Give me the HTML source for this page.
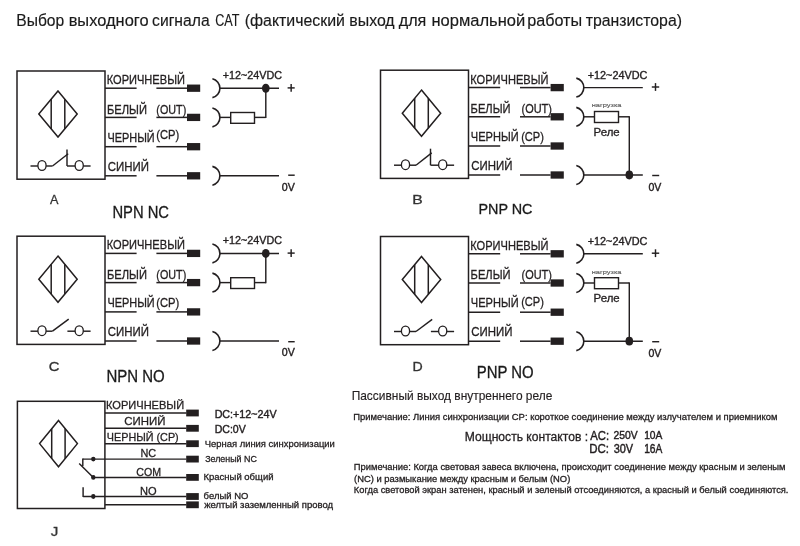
<!DOCTYPE html>
<html><head><meta charset="utf-8"><style>
html,body{margin:0;padding:0;background:#fff;}
svg{display:block;}
text{font-family:"Liberation Sans",sans-serif;}
svg{will-change:transform;}
</style></head><body>
<svg width="800" height="546" viewBox="0 0 800 546">
<rect x="0" y="0" width="800" height="546" fill="#fff"/>
<g stroke="#231f20" stroke-linecap="butt" fill="none">
<text x="16.25" y="25.90" font-size="15.65" textLength="47.99" lengthAdjust="spacingAndGlyphs" fill="#1a1a1a" stroke="#1a1a1a" stroke-width="0.15">Выбор</text>
<text x="68.65" y="25.90" font-size="15.65" textLength="79.89" lengthAdjust="spacingAndGlyphs" fill="#1a1a1a" stroke="#1a1a1a" stroke-width="0.15">выходного</text>
<text x="152.07" y="25.90" font-size="15.65" textLength="57.55" lengthAdjust="spacingAndGlyphs" fill="#1a1a1a" stroke="#1a1a1a" stroke-width="0.15">сигнала</text>
<text x="215.17" y="25.90" font-size="15.65" textLength="24.29" lengthAdjust="spacingAndGlyphs" fill="#1a1a1a" stroke="#1a1a1a" stroke-width="0.15">CAT</text>
<text x="244.75" y="25.90" font-size="15.65" textLength="100.25" lengthAdjust="spacingAndGlyphs" fill="#1a1a1a" stroke="#1a1a1a" stroke-width="0.15">(фактический</text>
<text x="349.29" y="25.90" font-size="15.65" textLength="45.37" lengthAdjust="spacingAndGlyphs" fill="#1a1a1a" stroke="#1a1a1a" stroke-width="0.15">выход</text>
<text x="398.74" y="25.90" font-size="15.65" textLength="27.57" lengthAdjust="spacingAndGlyphs" fill="#1a1a1a" stroke="#1a1a1a" stroke-width="0.15">для</text>
<text x="431.44" y="25.90" font-size="15.65" textLength="93.81" lengthAdjust="spacingAndGlyphs" fill="#1a1a1a" stroke="#1a1a1a" stroke-width="0.15">нормальной</text>
<text x="527.15" y="25.90" font-size="15.65" textLength="55.00" lengthAdjust="spacingAndGlyphs" fill="#1a1a1a" stroke="#1a1a1a" stroke-width="0.15">работы</text>
<text x="585.66" y="25.90" font-size="15.65" textLength="96.34" lengthAdjust="spacingAndGlyphs" fill="#1a1a1a" stroke="#1a1a1a" stroke-width="0.15">транзистора)</text>
<rect x="17.00" y="71.00" width="88.00" height="108.20" stroke-width="1.5" fill="none"/>
<polygon points="58.00,90.90 77.20,114.00 58.00,137.10 38.80,114.00" stroke-width="1.5" fill="none"/>
<line x1="51.20" y1="99.08" x2="51.20" y2="128.92" stroke-width="1.5"/>
<line x1="64.80" y1="99.08" x2="64.80" y2="128.92" stroke-width="1.5"/>
<line x1="30.50" y1="166.00" x2="37.90" y2="166.00" stroke-width="1.45"/>
<ellipse cx="42.00" cy="165.50" rx="4.1" ry="4.9" fill="none" stroke-width="1.3"/>
<line x1="46.10" y1="166.00" x2="52.50" y2="166.00" stroke-width="1.45"/>
<line x1="52.50" y1="166.00" x2="68.20" y2="153.70" stroke-width="1.45"/>
<line x1="67.00" y1="149.50" x2="67.00" y2="166.00" stroke-width="1.45"/>
<line x1="67.00" y1="166.00" x2="75.10" y2="166.00" stroke-width="1.45"/>
<ellipse cx="79.20" cy="165.50" rx="4.1" ry="4.9" fill="none" stroke-width="1.3"/>
<line x1="83.30" y1="166.00" x2="90.60" y2="166.00" stroke-width="1.45"/>
<line x1="105.00" y1="88.20" x2="136.60" y2="88.20" stroke-width="1.5"/>
<line x1="156.40" y1="88.20" x2="187.00" y2="88.20" stroke-width="1.5"/>
<rect x="187.00" y="84.55" width="13.2" height="7.3" fill="#231f20" stroke="none"/>
<line x1="105.00" y1="117.40" x2="136.60" y2="117.40" stroke-width="1.5"/>
<line x1="156.40" y1="117.40" x2="187.00" y2="117.40" stroke-width="1.5"/>
<rect x="187.00" y="113.75" width="13.2" height="7.3" fill="#231f20" stroke="none"/>
<line x1="105.00" y1="146.70" x2="136.60" y2="146.70" stroke-width="1.5"/>
<line x1="156.40" y1="146.70" x2="187.00" y2="146.70" stroke-width="1.5"/>
<rect x="187.00" y="143.05" width="13.2" height="7.3" fill="#231f20" stroke="none"/>
<line x1="105.00" y1="175.80" x2="136.60" y2="175.80" stroke-width="1.5"/>
<line x1="156.40" y1="175.80" x2="187.00" y2="175.80" stroke-width="1.5"/>
<rect x="187.00" y="172.15" width="13.2" height="7.3" fill="#231f20" stroke="none"/>
<text x="106.71" y="84.20" font-size="12.61" textLength="78.19" lengthAdjust="spacingAndGlyphs" fill="#231f20" stroke="#231f20" stroke-width="0.3">КОРИЧНЕВЫЙ</text>
<text x="107.01" y="113.70" font-size="12.61" textLength="39.92" lengthAdjust="spacingAndGlyphs" fill="#231f20" stroke="#231f20" stroke-width="0.3">БЕЛЫЙ</text>
<text x="156.35" y="113.70" font-size="12.61" textLength="29.91" lengthAdjust="spacingAndGlyphs" fill="#231f20" stroke="#231f20" stroke-width="0.3">(OUT)</text>
<text x="107.43" y="141.90" font-size="12.61" textLength="47.27" lengthAdjust="spacingAndGlyphs" fill="#231f20" stroke="#231f20" stroke-width="0.3">ЧЕРНЫЙ</text>
<text x="156.23" y="139.40" font-size="12.61" textLength="23.00" lengthAdjust="spacingAndGlyphs" fill="#231f20" stroke="#231f20" stroke-width="0.3">(CP)</text>
<text x="107.73" y="171.00" font-size="12.61" textLength="41.25" lengthAdjust="spacingAndGlyphs" fill="#231f20" stroke="#231f20" stroke-width="0.3">СИНИЙ</text>
<path d="M212.40,78.75 A9.7,9.7 0 0 1 212.40,97.65" fill="none" stroke-width="1.6"/>
<path d="M212.40,107.95 A9.7,9.7 0 0 1 212.40,126.85" fill="none" stroke-width="1.6"/>
<path d="M212.40,166.35 A9.7,9.7 0 0 1 212.40,185.25" fill="none" stroke-width="1.6"/>
<line x1="219.90" y1="88.20" x2="279.00" y2="88.20" stroke-width="1.45"/>
<ellipse cx="265.80" cy="88.20" rx="3.85" ry="4.5" fill="#231f20" stroke="none"/>
<line x1="219.90" y1="117.40" x2="230.70" y2="117.40" stroke-width="1.45"/>
<rect x="230.70" y="112.50" width="23.80" height="10.80" stroke-width="1.4" fill="none"/>
<line x1="254.50" y1="117.40" x2="265.80" y2="117.40" stroke-width="1.45"/>
<line x1="265.80" y1="88.20" x2="265.80" y2="118.00" stroke-width="1.45"/>
<line x1="219.90" y1="175.80" x2="279.00" y2="175.80" stroke-width="1.45"/>
<text x="222.66" y="79.00" font-size="10.58" textLength="59.36" lengthAdjust="spacingAndGlyphs" fill="#231f20" stroke="#231f20" stroke-width="0.35">+12~24VDC</text>
<line x1="287.60" y1="87.90" x2="294.70" y2="87.90" stroke-width="1.45"/>
<line x1="291.15" y1="84.00" x2="291.15" y2="91.80" stroke-width="1.45"/>
<line x1="288.20" y1="175.20" x2="294.70" y2="175.20" stroke-width="1.45"/>
<text x="281.77" y="190.70" font-size="11.59" textLength="13.01" lengthAdjust="spacingAndGlyphs" fill="#231f20" stroke="#231f20" stroke-width="0.42">0V</text>
<text x="50.00" y="204.00" font-size="13.04" textLength="8.43" lengthAdjust="spacingAndGlyphs" fill="#333" stroke="#333" stroke-width="0.3">A</text>
<text x="112.42" y="218.00" font-size="15.94" textLength="56.55" lengthAdjust="spacingAndGlyphs" fill="#1a1a1a" stroke="#1a1a1a" stroke-width="0.3">NPN NC</text>
<rect x="380.50" y="70.20" width="88.00" height="108.20" stroke-width="1.5" fill="none"/>
<polygon points="421.50,90.10 440.70,113.20 421.50,136.30 402.30,113.20" stroke-width="1.5" fill="none"/>
<line x1="414.70" y1="98.28" x2="414.70" y2="128.12" stroke-width="1.5"/>
<line x1="428.30" y1="98.28" x2="428.30" y2="128.12" stroke-width="1.5"/>
<line x1="394.00" y1="165.20" x2="401.40" y2="165.20" stroke-width="1.45"/>
<ellipse cx="405.50" cy="164.70" rx="4.1" ry="4.9" fill="none" stroke-width="1.3"/>
<line x1="409.60" y1="165.20" x2="416.00" y2="165.20" stroke-width="1.45"/>
<line x1="416.00" y1="165.20" x2="431.70" y2="152.90" stroke-width="1.45"/>
<line x1="430.50" y1="148.70" x2="430.50" y2="165.20" stroke-width="1.45"/>
<line x1="430.50" y1="165.20" x2="438.60" y2="165.20" stroke-width="1.45"/>
<ellipse cx="442.70" cy="164.70" rx="4.1" ry="4.9" fill="none" stroke-width="1.3"/>
<line x1="446.80" y1="165.20" x2="454.10" y2="165.20" stroke-width="1.45"/>
<line x1="468.60" y1="87.60" x2="500.20" y2="87.60" stroke-width="1.5"/>
<line x1="520.00" y1="87.60" x2="550.60" y2="87.60" stroke-width="1.5"/>
<rect x="550.60" y="83.95" width="13.2" height="7.3" fill="#231f20" stroke="none"/>
<line x1="468.60" y1="116.80" x2="500.20" y2="116.80" stroke-width="1.5"/>
<line x1="520.00" y1="116.80" x2="550.60" y2="116.80" stroke-width="1.5"/>
<rect x="550.60" y="113.15" width="13.2" height="7.3" fill="#231f20" stroke="none"/>
<line x1="468.60" y1="146.00" x2="500.20" y2="146.00" stroke-width="1.5"/>
<line x1="520.00" y1="146.00" x2="550.60" y2="146.00" stroke-width="1.5"/>
<rect x="550.60" y="142.35" width="13.2" height="7.3" fill="#231f20" stroke="none"/>
<line x1="468.60" y1="175.00" x2="500.20" y2="175.00" stroke-width="1.5"/>
<line x1="520.00" y1="175.00" x2="550.60" y2="175.00" stroke-width="1.5"/>
<rect x="550.60" y="171.35" width="13.2" height="7.3" fill="#231f20" stroke="none"/>
<text x="470.31" y="83.60" font-size="12.61" textLength="78.19" lengthAdjust="spacingAndGlyphs" fill="#231f20" stroke="#231f20" stroke-width="0.3">КОРИЧНЕВЫЙ</text>
<text x="470.61" y="113.10" font-size="12.61" textLength="39.92" lengthAdjust="spacingAndGlyphs" fill="#231f20" stroke="#231f20" stroke-width="0.3">БЕЛЫЙ</text>
<text x="521.54" y="113.10" font-size="12.61" textLength="30.33" lengthAdjust="spacingAndGlyphs" fill="#231f20" stroke="#231f20" stroke-width="0.3">(OUT)</text>
<text x="470.82" y="141.20" font-size="12.61" textLength="47.79" lengthAdjust="spacingAndGlyphs" fill="#231f20" stroke="#231f20" stroke-width="0.3">ЧЕРНЫЙ</text>
<text x="521.13" y="141.20" font-size="12.61" textLength="22.79" lengthAdjust="spacingAndGlyphs" fill="#231f20" stroke="#231f20" stroke-width="0.3">(CP)</text>
<text x="471.33" y="170.20" font-size="12.61" textLength="41.25" lengthAdjust="spacingAndGlyphs" fill="#231f20" stroke="#231f20" stroke-width="0.3">СИНИЙ</text>
<path d="M576.30,78.15 A9.7,9.7 0 0 1 576.30,97.05" fill="none" stroke-width="1.6"/>
<path d="M576.30,107.35 A9.7,9.7 0 0 1 576.30,126.25" fill="none" stroke-width="1.6"/>
<path d="M576.30,165.55 A9.7,9.7 0 0 1 576.30,184.45" fill="none" stroke-width="1.6"/>
<line x1="583.80" y1="87.60" x2="642.80" y2="87.60" stroke-width="1.45"/>
<line x1="583.80" y1="116.80" x2="594.50" y2="116.80" stroke-width="1.45"/>
<rect x="594.50" y="111.50" width="24.00" height="11.00" stroke-width="1.4" fill="none"/>
<line x1="618.50" y1="116.80" x2="629.30" y2="116.80" stroke-width="1.45"/>
<line x1="629.30" y1="116.20" x2="629.30" y2="175.00" stroke-width="1.45"/>
<line x1="583.80" y1="175.00" x2="642.80" y2="175.00" stroke-width="1.45"/>
<ellipse cx="629.30" cy="175.00" rx="3.8" ry="4.4" fill="#231f20" stroke="none"/>
<text x="587.66" y="79.20" font-size="10.58" textLength="59.77" lengthAdjust="spacingAndGlyphs" fill="#231f20" stroke="#231f20" stroke-width="0.35">+12~24VDC</text>
<line x1="651.80" y1="87.00" x2="659.20" y2="87.00" stroke-width="1.45"/>
<line x1="655.50" y1="83.10" x2="655.50" y2="90.90" stroke-width="1.45"/>
<line x1="652.20" y1="175.50" x2="659.20" y2="175.50" stroke-width="1.45"/>
<text x="648.38" y="190.60" font-size="11.59" textLength="12.91" lengthAdjust="spacingAndGlyphs" fill="#231f20" stroke="#231f20" stroke-width="0.42">0V</text>
<text x="591.68" y="107.30" font-size="6.09" textLength="29.84" lengthAdjust="spacingAndGlyphs" fill="#555" stroke="#555" stroke-width="0.1">нагрузка</text>
<text x="593.59" y="136.20" font-size="10.43" textLength="26.14" lengthAdjust="spacingAndGlyphs" fill="#231f20" stroke="#231f20" stroke-width="0.3">Реле</text>
<text x="412.34" y="203.60" font-size="12.46" textLength="10.47" lengthAdjust="spacingAndGlyphs" fill="#333" stroke="#333" stroke-width="0.3">B</text>
<text x="478.45" y="213.60" font-size="15.36" textLength="54.06" lengthAdjust="spacingAndGlyphs" fill="#1a1a1a" stroke="#1a1a1a" stroke-width="0.3">PNP NC</text>
<rect x="17.00" y="236.20" width="88.00" height="108.20" stroke-width="1.5" fill="none"/>
<polygon points="58.00,256.10 77.20,279.20 58.00,302.30 38.80,279.20" stroke-width="1.5" fill="none"/>
<line x1="51.20" y1="264.28" x2="51.20" y2="294.12" stroke-width="1.5"/>
<line x1="64.80" y1="264.28" x2="64.80" y2="294.12" stroke-width="1.5"/>
<line x1="30.50" y1="331.20" x2="37.90" y2="331.20" stroke-width="1.45"/>
<ellipse cx="42.00" cy="330.70" rx="4.1" ry="4.9" fill="none" stroke-width="1.3"/>
<line x1="46.10" y1="331.20" x2="52.50" y2="331.20" stroke-width="1.45"/>
<line x1="52.50" y1="331.20" x2="68.70" y2="319.10" stroke-width="1.45"/>
<line x1="67.40" y1="331.20" x2="75.10" y2="331.20" stroke-width="1.45"/>
<ellipse cx="79.20" cy="330.70" rx="4.1" ry="4.9" fill="none" stroke-width="1.3"/>
<line x1="83.30" y1="331.20" x2="90.60" y2="331.20" stroke-width="1.45"/>
<line x1="105.00" y1="253.40" x2="136.60" y2="253.40" stroke-width="1.5"/>
<line x1="156.40" y1="253.40" x2="187.00" y2="253.40" stroke-width="1.5"/>
<rect x="187.00" y="249.75" width="13.2" height="7.3" fill="#231f20" stroke="none"/>
<line x1="105.00" y1="282.60" x2="136.60" y2="282.60" stroke-width="1.5"/>
<line x1="156.40" y1="282.60" x2="187.00" y2="282.60" stroke-width="1.5"/>
<rect x="187.00" y="278.95" width="13.2" height="7.3" fill="#231f20" stroke="none"/>
<line x1="105.00" y1="311.90" x2="136.60" y2="311.90" stroke-width="1.5"/>
<line x1="156.40" y1="311.90" x2="187.00" y2="311.90" stroke-width="1.5"/>
<rect x="187.00" y="308.25" width="13.2" height="7.3" fill="#231f20" stroke="none"/>
<line x1="105.00" y1="341.00" x2="136.60" y2="341.00" stroke-width="1.5"/>
<line x1="156.40" y1="341.00" x2="187.00" y2="341.00" stroke-width="1.5"/>
<rect x="187.00" y="337.35" width="13.2" height="7.3" fill="#231f20" stroke="none"/>
<text x="106.71" y="249.40" font-size="12.61" textLength="78.19" lengthAdjust="spacingAndGlyphs" fill="#231f20" stroke="#231f20" stroke-width="0.3">КОРИЧНЕВЫЙ</text>
<text x="107.01" y="278.90" font-size="12.61" textLength="39.92" lengthAdjust="spacingAndGlyphs" fill="#231f20" stroke="#231f20" stroke-width="0.3">БЕЛЫЙ</text>
<text x="156.35" y="278.90" font-size="12.61" textLength="29.91" lengthAdjust="spacingAndGlyphs" fill="#231f20" stroke="#231f20" stroke-width="0.3">(OUT)</text>
<text x="107.43" y="307.10" font-size="12.61" textLength="47.27" lengthAdjust="spacingAndGlyphs" fill="#231f20" stroke="#231f20" stroke-width="0.3">ЧЕРНЫЙ</text>
<text x="156.23" y="307.10" font-size="12.61" textLength="23.00" lengthAdjust="spacingAndGlyphs" fill="#231f20" stroke="#231f20" stroke-width="0.3">(CP)</text>
<text x="107.73" y="336.20" font-size="12.61" textLength="41.25" lengthAdjust="spacingAndGlyphs" fill="#231f20" stroke="#231f20" stroke-width="0.3">СИНИЙ</text>
<path d="M212.40,243.95 A9.7,9.7 0 0 1 212.40,262.85" fill="none" stroke-width="1.6"/>
<path d="M212.40,273.15 A9.7,9.7 0 0 1 212.40,292.05" fill="none" stroke-width="1.6"/>
<path d="M212.40,331.55 A9.7,9.7 0 0 1 212.40,350.45" fill="none" stroke-width="1.6"/>
<line x1="219.90" y1="253.40" x2="279.00" y2="253.40" stroke-width="1.45"/>
<ellipse cx="265.80" cy="253.40" rx="3.85" ry="4.5" fill="#231f20" stroke="none"/>
<line x1="219.90" y1="282.60" x2="230.70" y2="282.60" stroke-width="1.45"/>
<rect x="230.70" y="277.70" width="23.80" height="10.80" stroke-width="1.4" fill="none"/>
<line x1="254.50" y1="282.60" x2="265.80" y2="282.60" stroke-width="1.45"/>
<line x1="265.80" y1="253.40" x2="265.80" y2="283.20" stroke-width="1.45"/>
<line x1="219.90" y1="341.00" x2="279.00" y2="341.00" stroke-width="1.45"/>
<text x="222.66" y="244.20" font-size="10.58" textLength="59.36" lengthAdjust="spacingAndGlyphs" fill="#231f20" stroke="#231f20" stroke-width="0.35">+12~24VDC</text>
<line x1="287.60" y1="253.10" x2="294.70" y2="253.10" stroke-width="1.45"/>
<line x1="291.15" y1="249.20" x2="291.15" y2="257.00" stroke-width="1.45"/>
<line x1="288.20" y1="341.70" x2="294.70" y2="341.70" stroke-width="1.45"/>
<text x="281.77" y="355.90" font-size="11.59" textLength="13.01" lengthAdjust="spacingAndGlyphs" fill="#231f20" stroke="#231f20" stroke-width="0.42">0V</text>
<text x="48.86" y="371.00" font-size="12.46" textLength="10.69" lengthAdjust="spacingAndGlyphs" fill="#333" stroke="#333" stroke-width="0.3">C</text>
<text x="106.40" y="382.00" font-size="15.94" textLength="58.34" lengthAdjust="spacingAndGlyphs" fill="#1a1a1a" stroke="#1a1a1a" stroke-width="0.3">NPN NO</text>
<rect x="380.50" y="236.50" width="88.00" height="108.20" stroke-width="1.5" fill="none"/>
<polygon points="421.50,256.40 440.70,279.50 421.50,302.60 402.30,279.50" stroke-width="1.5" fill="none"/>
<line x1="414.70" y1="264.58" x2="414.70" y2="294.42" stroke-width="1.5"/>
<line x1="428.30" y1="264.58" x2="428.30" y2="294.42" stroke-width="1.5"/>
<line x1="394.00" y1="331.50" x2="401.40" y2="331.50" stroke-width="1.45"/>
<ellipse cx="405.50" cy="331.00" rx="4.1" ry="4.9" fill="none" stroke-width="1.3"/>
<line x1="409.60" y1="331.50" x2="416.00" y2="331.50" stroke-width="1.45"/>
<line x1="416.00" y1="331.50" x2="432.20" y2="319.40" stroke-width="1.45"/>
<line x1="430.90" y1="331.50" x2="438.60" y2="331.50" stroke-width="1.45"/>
<ellipse cx="442.70" cy="331.00" rx="4.1" ry="4.9" fill="none" stroke-width="1.3"/>
<line x1="446.80" y1="331.50" x2="454.10" y2="331.50" stroke-width="1.45"/>
<line x1="468.60" y1="253.80" x2="500.20" y2="253.80" stroke-width="1.5"/>
<line x1="520.00" y1="253.80" x2="550.60" y2="253.80" stroke-width="1.5"/>
<rect x="550.60" y="250.15" width="13.2" height="7.3" fill="#231f20" stroke="none"/>
<line x1="468.60" y1="283.00" x2="500.20" y2="283.00" stroke-width="1.5"/>
<line x1="520.00" y1="283.00" x2="550.60" y2="283.00" stroke-width="1.5"/>
<rect x="550.60" y="279.35" width="13.2" height="7.3" fill="#231f20" stroke="none"/>
<line x1="468.60" y1="312.20" x2="500.20" y2="312.20" stroke-width="1.5"/>
<line x1="520.00" y1="312.20" x2="550.60" y2="312.20" stroke-width="1.5"/>
<rect x="550.60" y="308.55" width="13.2" height="7.3" fill="#231f20" stroke="none"/>
<line x1="468.60" y1="341.20" x2="500.20" y2="341.20" stroke-width="1.5"/>
<line x1="520.00" y1="341.20" x2="550.60" y2="341.20" stroke-width="1.5"/>
<rect x="550.60" y="337.55" width="13.2" height="7.3" fill="#231f20" stroke="none"/>
<text x="470.31" y="249.80" font-size="12.61" textLength="78.19" lengthAdjust="spacingAndGlyphs" fill="#231f20" stroke="#231f20" stroke-width="0.3">КОРИЧНЕВЫЙ</text>
<text x="470.61" y="279.30" font-size="12.61" textLength="39.92" lengthAdjust="spacingAndGlyphs" fill="#231f20" stroke="#231f20" stroke-width="0.3">БЕЛЫЙ</text>
<text x="521.54" y="279.30" font-size="12.61" textLength="30.33" lengthAdjust="spacingAndGlyphs" fill="#231f20" stroke="#231f20" stroke-width="0.3">(OUT)</text>
<text x="470.82" y="307.40" font-size="12.61" textLength="47.79" lengthAdjust="spacingAndGlyphs" fill="#231f20" stroke="#231f20" stroke-width="0.3">ЧЕРНЫЙ</text>
<text x="521.13" y="305.90" font-size="12.61" textLength="22.79" lengthAdjust="spacingAndGlyphs" fill="#231f20" stroke="#231f20" stroke-width="0.3">(CP)</text>
<text x="471.33" y="336.40" font-size="12.61" textLength="41.25" lengthAdjust="spacingAndGlyphs" fill="#231f20" stroke="#231f20" stroke-width="0.3">СИНИЙ</text>
<path d="M576.30,244.35 A9.7,9.7 0 0 1 576.30,263.25" fill="none" stroke-width="1.6"/>
<path d="M576.30,273.55 A9.7,9.7 0 0 1 576.30,292.45" fill="none" stroke-width="1.6"/>
<path d="M576.30,331.75 A9.7,9.7 0 0 1 576.30,350.65" fill="none" stroke-width="1.6"/>
<line x1="583.80" y1="253.80" x2="642.80" y2="253.80" stroke-width="1.45"/>
<line x1="583.80" y1="283.00" x2="594.50" y2="283.00" stroke-width="1.45"/>
<rect x="594.50" y="277.70" width="24.00" height="11.00" stroke-width="1.4" fill="none"/>
<line x1="618.50" y1="283.00" x2="629.30" y2="283.00" stroke-width="1.45"/>
<line x1="629.30" y1="282.40" x2="629.30" y2="341.20" stroke-width="1.45"/>
<line x1="583.80" y1="341.20" x2="642.80" y2="341.20" stroke-width="1.45"/>
<ellipse cx="629.30" cy="341.20" rx="3.8" ry="4.4" fill="#231f20" stroke="none"/>
<text x="587.66" y="245.40" font-size="10.58" textLength="59.77" lengthAdjust="spacingAndGlyphs" fill="#231f20" stroke="#231f20" stroke-width="0.35">+12~24VDC</text>
<line x1="651.80" y1="253.20" x2="659.20" y2="253.20" stroke-width="1.45"/>
<line x1="655.50" y1="249.30" x2="655.50" y2="257.10" stroke-width="1.45"/>
<line x1="652.20" y1="341.70" x2="659.20" y2="341.70" stroke-width="1.45"/>
<text x="648.38" y="356.80" font-size="11.59" textLength="12.91" lengthAdjust="spacingAndGlyphs" fill="#231f20" stroke="#231f20" stroke-width="0.42">0V</text>
<text x="591.68" y="273.50" font-size="6.09" textLength="29.84" lengthAdjust="spacingAndGlyphs" fill="#555" stroke="#555" stroke-width="0.1">нагрузка</text>
<text x="593.59" y="302.40" font-size="10.43" textLength="26.14" lengthAdjust="spacingAndGlyphs" fill="#231f20" stroke="#231f20" stroke-width="0.3">Реле</text>
<text x="412.47" y="371.00" font-size="12.46" textLength="10.20" lengthAdjust="spacingAndGlyphs" fill="#333" stroke="#333" stroke-width="0.3">D</text>
<text x="476.81" y="378.00" font-size="15.94" textLength="56.88" lengthAdjust="spacingAndGlyphs" fill="#1a1a1a" stroke="#1a1a1a" stroke-width="0.3">PNP NO</text>
<rect x="17.40" y="401.30" width="87.50" height="107.20" stroke-width="1.5" fill="none"/>
<polygon points="58.50,420.50 77.40,443.60 58.50,466.70 39.60,443.60" stroke-width="1.5" fill="none"/>
<line x1="51.70" y1="428.81" x2="51.70" y2="458.39" stroke-width="1.5"/>
<line x1="65.10" y1="428.57" x2="65.10" y2="458.63" stroke-width="1.5"/>
<line x1="105.00" y1="413.00" x2="186.40" y2="413.00" stroke-width="1.45"/>
<rect x="186.20" y="409.60" width="12.6" height="6.8" fill="#231f20" stroke="none"/>
<line x1="105.00" y1="428.30" x2="186.40" y2="428.30" stroke-width="1.45"/>
<rect x="186.20" y="424.90" width="12.6" height="6.8" fill="#231f20" stroke="none"/>
<line x1="105.00" y1="443.70" x2="186.40" y2="443.70" stroke-width="1.45"/>
<rect x="186.20" y="440.30" width="12.6" height="6.8" fill="#231f20" stroke="none"/>
<line x1="82.80" y1="459.10" x2="186.40" y2="459.10" stroke-width="1.45"/>
<rect x="186.20" y="455.70" width="12.6" height="6.8" fill="#231f20" stroke="none"/>
<line x1="93.30" y1="477.40" x2="186.40" y2="477.40" stroke-width="1.45"/>
<rect x="186.20" y="474.00" width="12.6" height="6.8" fill="#231f20" stroke="none"/>
<line x1="83.10" y1="496.50" x2="186.40" y2="496.50" stroke-width="1.45"/>
<rect x="186.20" y="493.10" width="12.6" height="6.8" fill="#231f20" stroke="none"/>
<line x1="105.00" y1="504.80" x2="186.40" y2="504.80" stroke-width="1.45"/>
<rect x="186.20" y="501.40" width="12.6" height="6.8" fill="#231f20" stroke="none"/>
<line x1="82.80" y1="458.50" x2="82.80" y2="466.00" stroke-width="1.45"/>
<line x1="79.20" y1="463.50" x2="93.30" y2="477.60" stroke-width="1.45"/>
<line x1="83.10" y1="487.20" x2="83.10" y2="497.10" stroke-width="1.45"/>
<ellipse cx="93.30" cy="459.10" rx="2.2" ry="2.4" fill="#231f20" stroke="none"/>
<ellipse cx="93.30" cy="477.40" rx="2.2" ry="2.4" fill="#231f20" stroke="none"/>
<ellipse cx="93.30" cy="496.50" rx="2.2" ry="2.4" fill="#231f20" stroke="none"/>
<text x="106.02" y="409.40" font-size="11.59" textLength="78.09" lengthAdjust="spacingAndGlyphs" fill="#231f20" stroke="#231f20" stroke-width="0.3">КОРИЧНЕВЫЙ</text>
<text x="124.33" y="425.00" font-size="11.59" textLength="41.15" lengthAdjust="spacingAndGlyphs" fill="#231f20" stroke="#231f20" stroke-width="0.3">СИНИЙ</text>
<text x="106.84" y="440.60" font-size="11.59" textLength="71.86" lengthAdjust="spacingAndGlyphs" fill="#231f20" stroke="#231f20" stroke-width="0.3">ЧЕРНЫЙ (CP)</text>
<text x="140.53" y="456.80" font-size="11.59" textLength="15.70" lengthAdjust="spacingAndGlyphs" fill="#231f20" stroke="#231f20" stroke-width="0.3">NC</text>
<text x="136.37" y="475.80" font-size="11.59" textLength="24.82" lengthAdjust="spacingAndGlyphs" fill="#231f20" stroke="#231f20" stroke-width="0.3">COM</text>
<text x="140.11" y="495.00" font-size="11.59" textLength="16.64" lengthAdjust="spacingAndGlyphs" fill="#231f20" stroke="#231f20" stroke-width="0.3">NO</text>
<text x="214.64" y="417.50" font-size="11.59" textLength="62.03" lengthAdjust="spacingAndGlyphs" fill="#231f20" stroke="#231f20" stroke-width="0.42">DC:+12~24V</text>
<text x="214.66" y="432.50" font-size="11.59" textLength="31.10" lengthAdjust="spacingAndGlyphs" fill="#231f20" stroke="#231f20" stroke-width="0.42">DC:0V</text>
<text x="204.75" y="447.20" font-size="9.57" textLength="130.09" lengthAdjust="spacingAndGlyphs" fill="#231f20" stroke="#231f20" stroke-width="0.3">Черная линия синхронизации</text>
<text x="205.19" y="461.60" font-size="9.57" textLength="51.65" lengthAdjust="spacingAndGlyphs" fill="#231f20" stroke="#231f20" stroke-width="0.3">Зеленый NC</text>
<text x="203.44" y="480.30" font-size="9.28" textLength="70.09" lengthAdjust="spacingAndGlyphs" fill="#231f20" stroke="#231f20" stroke-width="0.3">Красный общий</text>
<text x="203.63" y="499.40" font-size="9.28" textLength="44.72" lengthAdjust="spacingAndGlyphs" fill="#231f20" stroke="#231f20" stroke-width="0.3">белый NO</text>
<text x="204.15" y="508.40" font-size="9.06" textLength="128.93" lengthAdjust="spacingAndGlyphs" fill="#231f20" stroke="#231f20" stroke-width="0.3">желтый заземленный провод</text>
<text x="50.77" y="535.80" font-size="13.48" textLength="7.56" lengthAdjust="spacingAndGlyphs" fill="#333" stroke="#333" stroke-width="0.3">J</text>
<text x="351.65" y="400.30" font-size="12.46" textLength="200.71" lengthAdjust="spacingAndGlyphs" fill="#231f20" stroke="#231f20" stroke-width="0.15">Пассивный выход внутреннего реле</text>
<text x="353.25" y="420.20" font-size="9.28" textLength="424.18" lengthAdjust="spacingAndGlyphs" fill="#231f20" stroke="#231f20" stroke-width="0.3">Примечание: Линия синхронизации CP: короткое соединение между излучателем и приемником</text>
<text x="464.73" y="441.20" font-size="12.61" textLength="123.39" lengthAdjust="spacingAndGlyphs" fill="#231f20" stroke="#231f20" stroke-width="0.3">Мощность контактов :</text>
<text x="590.20" y="440.00" font-size="12.46" textLength="18.84" lengthAdjust="spacingAndGlyphs" fill="#231f20" stroke="#231f20" stroke-width="0.42">AC:</text>
<text x="613.38" y="438.80" font-size="11.30" textLength="24.17" lengthAdjust="spacingAndGlyphs" fill="#231f20" stroke="#231f20" stroke-width="0.42">250V</text>
<text x="644.13" y="438.80" font-size="11.30" textLength="18.21" lengthAdjust="spacingAndGlyphs" fill="#231f20" stroke="#231f20" stroke-width="0.42">10A</text>
<text x="589.28" y="452.50" font-size="12.46" textLength="19.78" lengthAdjust="spacingAndGlyphs" fill="#231f20" stroke="#231f20" stroke-width="0.42">DC:</text>
<text x="613.66" y="452.80" font-size="11.88" textLength="19.44" lengthAdjust="spacingAndGlyphs" fill="#231f20" stroke="#231f20" stroke-width="0.42">30V</text>
<text x="644.13" y="452.80" font-size="11.88" textLength="18.21" lengthAdjust="spacingAndGlyphs" fill="#231f20" stroke="#231f20" stroke-width="0.42">16A</text>
<text x="353.85" y="470.00" font-size="9.28" textLength="431.69" lengthAdjust="spacingAndGlyphs" fill="#231f20" stroke="#231f20" stroke-width="0.3">Примечание: Когда световая завеса включена, происходит соединение между красным и зеленым</text>
<text x="354.04" y="482.00" font-size="9.28" textLength="216.27" lengthAdjust="spacingAndGlyphs" fill="#231f20" stroke="#231f20" stroke-width="0.3">(NC) и размыкание между красным и белым (NO)</text>
<text x="353.85" y="493.40" font-size="9.28" textLength="434.59" lengthAdjust="spacingAndGlyphs" fill="#231f20" stroke="#231f20" stroke-width="0.3">Когда световой экран затенен, красный и зеленый отсоединяются, а красный и белый соединяются.</text>
</g>
</svg>
</body></html>
